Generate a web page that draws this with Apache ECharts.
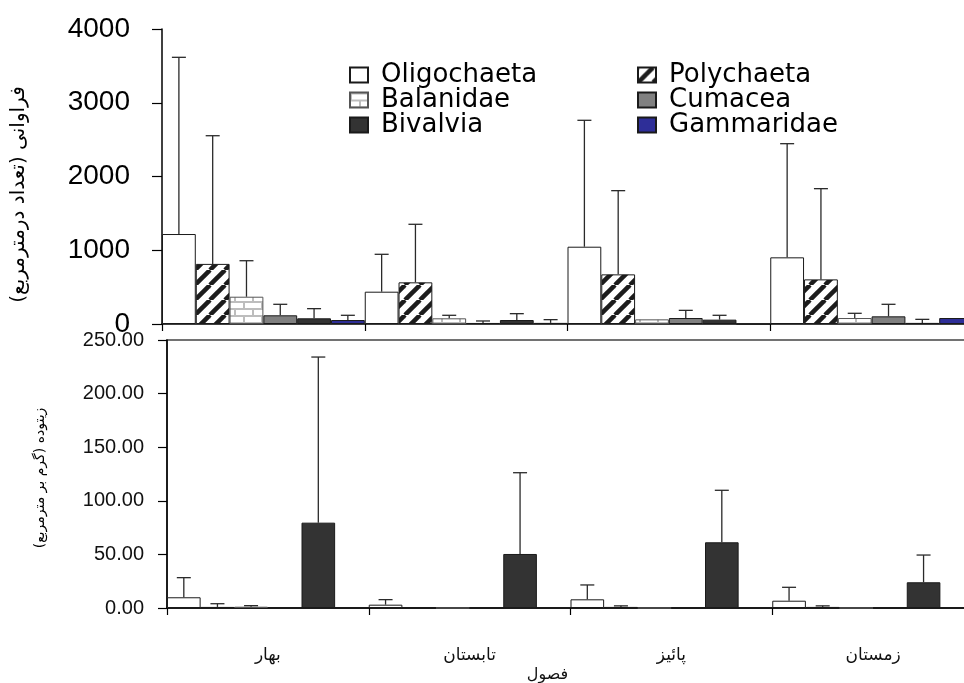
<!DOCTYPE html>
<html>
<head>
<meta charset="utf-8">
<script src="https://cdn.jsdelivr.net/npm/echarts@6/dist/echarts.min.js"></script>
<style>
  html, body { margin: 0; padding: 0; background: #fff; }
  #chart { width: 964px; height: 683px; }
</style>
</head>
<body>
<div id="chart"></div>
<script>
// Seasons and taxa
const seasons = ['بهار', 'تابستان', 'پائیز', 'زمستان'];
const taxa = ['Oligochaeta', 'Polychaeta', 'Balanidae', 'Cumacea', 'Bivalvia', 'Gammaridae'];

// Abundance (individuals per m²): seasonal mean and standard deviation
const densOligochaeta   = [1220, 438, 1048, 904];
const densOligochaetaSd = [2396, 507, 1714, 1541];
const densPolychaeta    = [815, 565, 673, 605];
const densPolychaetaSd  = [1738, 787, 1135, 1230];
const densBalanidae     = [370, 77, 63, 81];
const densBalanidaeSd   = [488, 41, 0, 64];
const densCumacea       = [118, 14, 81, 104];
const densCumaceaSd     = [149, 27, 104, 163];
const densBivalvia      = [77, 54, 59, 15];
const densBivalviaSd    = [131, 86, 59, 48];
const densGammaridae    = [54, 15, 0, 81];
const densGammaridaeSd  = [64, 44, 0, 0];

// Biomass (g per m²): seasonal mean and standard deviation
const bioOligochaeta   = [10, 3.1, 8.1, 6.8];
const bioOligochaetaSd = [18.3, 4.7, 13.4, 12.5];
const bioPolychaeta    = [1, 0.8, 1, 1];
const bioPolychaetaSd  = [3, 0, 1, 1];
const bioBalanidae     = [1.2, 0, 0, 0];
const bioBalanidaeSd   = [1, 0, 0, 0];
const bioCumacea       = [0, 0, 0, 0];
const bioCumaceaSd     = [0, 0, 0, 0];
const bioBivalvia      = [79.6, 50.4, 61.3, 24];
const bioBivalviaSd    = [154.5, 75.8, 48.5, 25.4];
const bioGammaridae    = [0, 0, 0, 0];
const bioGammaridaeSd  = [0, 0, 0, 0];

// Axis ticks
const densTicks = { min: 0, max: 4000, interval: 1000 };
const bioTicks = { min: 0, max: 250, interval: 50 };

const densMean = [densOligochaeta, densPolychaeta, densBalanidae, densCumacea, densBivalvia, densGammaridae];
const densSd = [densOligochaetaSd, densPolychaetaSd, densBalanidaeSd, densCumaceaSd, densBivalviaSd, densGammaridaeSd];
const bioMean = [bioOligochaeta, bioPolychaeta, bioBalanidae, bioCumacea, bioBivalvia, bioGammaridae];
const bioSd = [bioOligochaetaSd, bioPolychaetaSd, bioBalanidaeSd, bioCumaceaSd, bioBivalviaSd, bioGammaridaeSd];

// Fill patterns
function hatchTile() {
  const s = 15;
  const c = document.createElement('canvas');
  c.width = s; c.height = s;
  const g = c.getContext('2d');
  g.fillStyle = '#fff';
  g.fillRect(0, 0, s, s);
  g.strokeStyle = '#1c1c1c';
  g.lineWidth = 4.5;
  for (const o of [-s, 0, s]) {
    g.beginPath();
    g.moveTo(o, s);
    g.lineTo(o + s, 0);
    g.stroke();
  }
  return c;
}
function brickTile() {
  const w = 18, h = 14;
  const c = document.createElement('canvas');
  c.width = w; c.height = h;
  const g = c.getContext('2d');
  g.fillStyle = '#fff';
  g.fillRect(0, 0, w, h);
  g.strokeStyle = '#bdbdbd';
  g.lineWidth = 2;
  g.beginPath();
  g.moveTo(0, 1); g.lineTo(w, 1);
  g.moveTo(0, 8); g.lineTo(w, 8);
  g.moveTo(1, 1); g.lineTo(1, 8);
  g.moveTo(10, 8); g.lineTo(10, h + 1);
  g.stroke();
  return c;
}

const border = { borderColor: '#1a1a1a', borderWidth: 1 };
const taxaStyle = [
  Object.assign({ color: '#ffffff' }, border),
  Object.assign({ color: { image: hatchTile(), repeat: 'repeat' } }, border),
  Object.assign({ color: { image: brickTile(), repeat: 'repeat' } }, { borderColor: '#555', borderWidth: 1 }),
  Object.assign({ color: '#808080' }, border),
  Object.assign({ color: '#333333' }, border),
  Object.assign({ color: '#2e2e98' }, border)
];

function barSeries(gridIdx, means) {
  return taxa.map((name, k) => ({
    type: 'bar',
    name: name,
    xAxisIndex: gridIdx,
    yAxisIndex: gridIdx,
    data: means[k],
    barGap: '0%',
    barCategoryGap: '0%',
    itemStyle: taxaStyle[k],
    silent: true,
    z: 2
  }));
}

// Standard deviation whiskers placed over each bar slot
function sdSeries(gridIdx, means, sds) {
  return taxa.map((name, k) => ({
    type: 'custom',
    name: name + ' SD',
    xAxisIndex: gridIdx,
    yAxisIndex: gridIdx,
    silent: true,
    z: 3,
    data: means[k].map((m, i) => [i, m, sds[k][i]]),
    encode: { x: 0, y: 1 },
    renderItem: function (params, api) {
      const sd = api.value(2);
      if (!sd) return;
      const cat = api.value(0), m = api.value(1);
      const p0 = api.coord([cat, m]);
      const p1 = api.coord([cat, m + sd]);
      const band = api.size([1, 0])[0];
      const x = p0[0] + (k - 2.5) * band / 6;
      const st = { stroke: '#2a2a2a', lineWidth: 1.3 };
      return {
        type: 'group',
        children: [
          { type: 'line', shape: { x1: x, y1: p0[1], x2: x, y2: p1[1] }, style: st },
          { type: 'line', shape: { x1: x - 7, y1: p1[1], x2: x + 7, y2: p1[1] }, style: st }
        ]
      };
    }
  }));
}

const axisLineStyle = { show: true, lineStyle: { color: '#000', width: 1.5 } };
const legendText = { fontFamily: 'DejaVu Sans', fontSize: 26, color: '#000', lineHeight: 20, padding: [0, 0, 0, 8] };

const option = {
  animation: false,
  backgroundColor: '#fff',
  grid: [
    { left: 162, top: 29, width: 811, height: 295, outerBoundsMode: 'none', containLabel: false },
    {
      left: 167, top: 340, width: 807, height: 268, outerBoundsMode: 'none', containLabel: false,
      show: true, borderColor: '#444', borderWidth: 1.5, backgroundColor: 'transparent'
    }
  ],
  legend: [
    {
      data: ['Oligochaeta', 'Balanidae', 'Bivalvia'],
      orient: 'vertical', left: 349, top: 62, padding: 0,
      itemWidth: 18, itemHeight: 15, itemGap: -1, icon: 'rect',
      selectedMode: false, textStyle: legendText
    },
    {
      data: ['Polychaeta', 'Cumacea', 'Gammaridae'],
      orient: 'vertical', left: 637, top: 62, padding: 0,
      itemWidth: 18, itemHeight: 15, itemGap: -1, icon: 'rect',
      selectedMode: false, textStyle: legendText
    }
  ],
  xAxis: [
    {
      gridIndex: 0, type: 'category', data: seasons,
      axisLine: axisLineStyle,
      axisTick: { show: true, length: 7, lineStyle: { color: '#000', width: 1.2 } },
      axisLabel: { show: false }
    },
    {
      gridIndex: 1, type: 'category', data: seasons,
      axisLine: axisLineStyle,
      axisTick: { show: true, length: 7, lineStyle: { color: '#000', width: 1.2 } },
      axisLabel: { margin: 39, fontFamily: 'DejaVu Sans', fontSize: 17, color: '#111' },
      name: 'فصول', nameLocation: 'middle', nameGap: 59,
      nameTextStyle: { fontFamily: 'DejaVu Sans', fontSize: 16, color: '#111', padding: [0, 46, 0, 0] }
    }
  ],
  yAxis: [
    {
      gridIndex: 0, type: 'value', min: densTicks.min, max: densTicks.max, interval: densTicks.interval,
      axisLine: axisLineStyle,
      axisTick: { show: true, length: 10, lineStyle: { color: '#000', width: 1.2 } },
      splitLine: { show: false },
      axisLabel: {
        margin: 32, fontFamily: 'Liberation Sans', fontSize: 28, color: '#000', padding: [0, 0, 8, 0],
        formatter: v => String(v)
      },
      name: 'فراوانی (تعداد درمترمربع)', nameLocation: 'middle', nameGap: 133,
      nameTextStyle: { fontFamily: 'DejaVu Sans', fontSize: 20, color: '#000', padding: [0, 36, 0, 0] }
    },
    {
      gridIndex: 1, type: 'value', min: bioTicks.min, max: bioTicks.max, interval: bioTicks.interval,
      axisLine: axisLineStyle,
      axisTick: { show: true, length: 9, lineStyle: { color: '#000', width: 1.2 } },
      splitLine: { show: false },
      axisLabel: {
        margin: 23, fontFamily: 'Liberation Sans', fontSize: 20, color: '#111', padding: [0, 0, 6, 0],
        formatter: v => v.toFixed(2)
      },
      name: 'زیتوده (گرم بر مترمربع)', nameLocation: 'middle', nameGap: 120,
      nameTextStyle: { fontFamily: 'DejaVu Sans', fontSize: 14, color: '#000', padding: [0, 8, 0, 0] }
    }
  ],
  series: [].concat(
    barSeries(0, densMean),
    sdSeries(0, densMean, densSd),
    barSeries(1, bioMean),
    sdSeries(1, bioMean, bioSd)
  )
};

const chart = echarts.init(document.getElementById('chart'), null, { renderer: 'canvas' });
chart.setOption(option);
</script>
</body>
</html>
